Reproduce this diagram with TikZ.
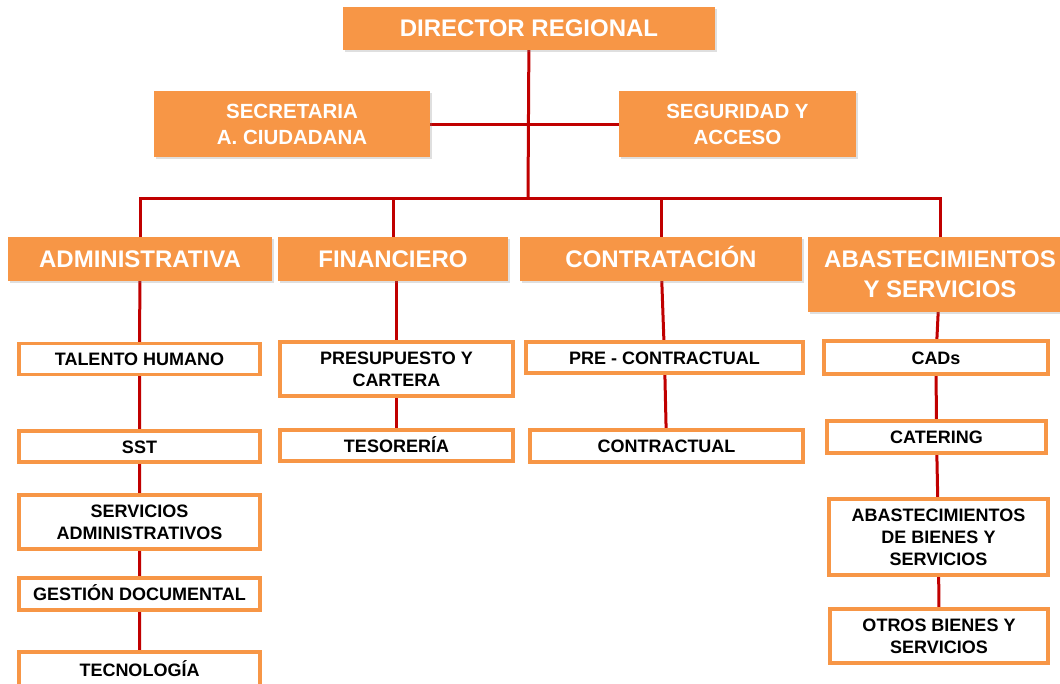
\documentclass[tikz,border=0pt]{standalone}
\usepackage{fontspec}
\setmainfont{Liberation Sans}
\usepackage{xcolor}
\usepackage{tikz}
\usetikzlibrary{positioning, backgrounds, shadows}

\definecolor{boxorange}{HTML}{F79646}
\definecolor{linkred}{HTML}{C00000}

\begin{document}
\begin{tikzpicture}[
    x=1pt, y=-1pt,
    top/.style={rectangle, fill=boxorange, text=white, align=center, inner sep=0pt,
        drop shadow={opacity=0.25, shadow xshift=2pt, shadow yshift=-2pt},
        font=\bfseries\fontsize{20.5}{26}\selectfont},
    area/.style={top, minimum height=44pt, text height=17.2pt, text depth=0pt,
        font=\bfseries\fontsize{24}{30}\selectfont},
    unit/.style={rectangle, draw=boxorange, line width=3.5pt, fill=white, align=center,
        inner sep=0pt, text height=13pt, text depth=0pt,
        font=\bfseries\fontsize{18}{22}\selectfont},
    multi/.style={text height={}, text depth={}},
    link/.style={draw=linkred, line width=3pt, line cap=rect}
]
\useasboundingbox (0,0) rectangle (1060,683);

% direccion
\node[top, minimum width=372pt, minimum height=43pt, font=\bfseries\fontsize{24}{29}\selectfont]
    (dir) at (529,28.5) {DIRECTOR REGIONAL};
\node[top, minimum width=276pt, minimum height=66pt] (sec) at (292,124) {SECRETARIA\\A. CIUDADANA};
\node[top, minimum width=237pt, minimum height=66pt] (seg) at (737.5,124) {SEGURIDAD Y\\ACCESO};

% areas
\node[area, minimum width=264pt] (adm) at (140,259) {ADMINISTRATIVA};
\node[area, minimum width=230pt] (fin) at (393,259) {FINANCIERO};
\node[area, minimum width=282pt] (con) at (661,259) {CONTRATACIÓN};
\node[area, multi, minimum width=264pt, minimum height=75pt] (abs) at (940,274.5) {ABASTECIMIENTOS\\Y SERVICIOS};

% administrativa
\node[unit, minimum width=241pt, minimum height=31pt] (tal) at (139.5,359) {TALENTO HUMANO};
\node[unit, minimum width=241pt, minimum height=31pt] (sst) at (139.5,446.5) {SST};
\node[unit, multi, minimum width=241pt, minimum height=54pt] (serv) at (139.5,522) {SERVICIOS\\ADMINISTRATIVOS};
\node[unit, minimum width=241pt, minimum height=32pt] (gest) at (139.5,594) {GESTIÓN DOCUMENTAL};
\node[unit, minimum width=241pt, minimum height=36pt] (tec) at (139.5,670) {TECNOLOGÍA};

% financiero
\node[unit, multi, minimum width=233pt, minimum height=54pt] (pres) at (396.5,369) {PRESUPUESTO Y\\CARTERA};
\node[unit, minimum width=233pt, minimum height=31pt] (tes) at (396.5,445.5) {TESORERÍA};

% contratacion
\node[unit, minimum width=277pt, minimum height=31pt] (prec) at (664.5,357.5) {PRE - CONTRACTUAL};
\node[unit, minimum width=273pt, minimum height=32pt] (cont) at (666.5,446) {CONTRACTUAL};

% abastecimientos
\node[unit, minimum width=224pt, minimum height=33pt] (cad) at (936,357.5) {CADs};
\node[unit, minimum width=219pt, minimum height=32pt] (cat) at (936.5,437) {CATERING};
\node[unit, multi, minimum width=219pt, minimum height=76pt] (abb) at (938.5,537) {ABASTECIMIENTOS\\DE BIENES Y\\SERVICIOS};
\node[unit, multi, minimum width=218pt, minimum height=54pt] (otr) at (939,636) {OTROS BIENES Y\\SERVICIOS};

\begin{scope}[on background layer]
\coordinate (bus) at (528,198);
\draw[link] (dir) -- (bus);
\draw[link] (sec) -- (seg);
\draw[link] (bus -| adm) -- (bus -| abs);
\foreach \n in {adm,fin,con,abs}
    \draw[link] (bus -| \n) -- (\n);
\draw[link] (adm) -- (tal) -- (sst) -- (serv) -- (gest) -- (tec);
\draw[link] (fin.south -| pres) -- (pres) -- (tes);
\draw[link] (con) -- (prec) -- (cont);
\draw[link] (abs) -- (cad) -- (cat) -- (abb) -- (otr);
\end{scope}

\end{tikzpicture}
\end{document}
